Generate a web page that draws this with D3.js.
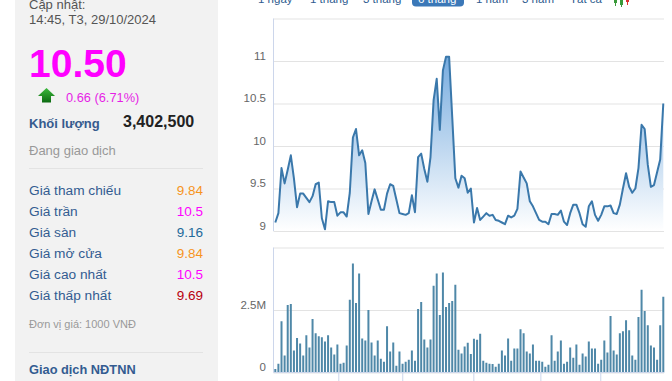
<!DOCTYPE html>
<html>
<head>
<meta charset="utf-8">
<script src="https://cdn.jsdelivr.net/npm/d3@7"></script>
<style>
  html, body { margin: 0; padding: 0; background: #fff; }
  svg { display: block; font-family: "Liberation Sans", Arial, sans-serif; }
</style>
</head>
<body>
<script>
// ---------- data ----------
const price = [
  9.10, 9.21, 9.74, 9.56, 9.72, 9.89, 9.62, 9.28, 9.44, 9.44,
  9.39, 9.34, 9.41, 9.55, 9.57, 9.15, 9.02, 9.35, 9.34, 9.34,
  9.18, 9.22, 9.22, 9.17, 9.45, 10.10, 10.20, 9.89, 9.95, 9.80,
  9.20, 9.35, 9.49, 9.37, 9.25, 9.25, 9.44, 9.55, 9.53, 9.37,
  9.21, 9.20, 9.19, 9.21, 9.42, 9.22, 9.87, 9.91, 9.73, 9.58,
  9.87, 10.54, 10.79, 10.19, 10.89, 11.05, 11.05, 10.34, 9.62, 9.51,
  9.65, 9.62, 9.45, 9.50, 9.10, 9.27, 9.13, 9.17, 9.21, 9.18,
  9.19, 9.13, 9.12, 9.10, 9.08, 9.18, 9.16, 9.18, 9.26, 9.70,
  9.63, 9.56, 9.35, 9.29, 9.21, 9.13, 9.11, 9.11, 9.08, 9.20,
  9.20, 9.19, 9.24, 9.11, 9.07, 9.21, 9.31, 9.31, 9.21, 9.08,
  9.05, 9.29, 9.35, 9.19, 9.12, 9.19, 9.29, 9.29, 9.30, 9.21,
  9.20, 9.31, 9.50, 9.68, 9.52, 9.45, 9.50, 9.74, 10.25, 10.20,
  9.78, 9.52, 9.54, 9.69, 9.84, 10.50
];
// volume in millions of shares
const volume = [
  0.14, 0.35, 2.05, 0.68, 2.70, 2.74, 0.88, 1.38, 1.16, 0.68,
  1.49, 1.00, 2.14, 1.57, 1.45, 1.41, 1.24, 1.49, 1.00, 0.72,
  1.12, 0.35, 0.39, 1.08, 2.91, 4.36, 2.78, 3.96, 1.36, 1.28,
  2.50, 1.20, 0.68, 1.28, 0.55, 0.43, 1.85, 0.84, 1.20, 0.27,
  0.84, 0.35, 0.43, 0.51, 0.88, 0.47, 2.54, 2.82, 1.32, 1.00,
  1.32, 3.47, 3.96, 2.30, 4.00, 2.62, 2.78, 2.86, 3.51, 0.91,
  0.76, 1.04, 1.19, 0.74, 1.35, 1.31, 1.55, 0.47, 0.39, 0.35,
  0.34, 0.23, 0.35, 0.88, 0.68, 1.36, 0.47, 0.96, 0.96, 1.73,
  1.57, 0.84, 0.76, 1.12, 0.47, 0.47, 0.43, 0.23, 0.31, 1.49,
  0.47, 0.84, 1.28, 0.35, 0.43, 1.00, 0.59, 1.12, 0.31, 0.76,
  0.64, 1.24, 0.96, 0.96, 0.35, 0.51, 1.28, 0.80, 2.26, 0.88,
  0.72, 1.57, 1.65, 2.09, 1.69, 0.68, 0.51, 2.22, 3.31, 2.46,
  1.89, 1.08, 1.00, 0.51, 1.89, 3.03
];
const priceTicks = [9, 9.5, 10, 10.5, 11, 11.5];
const priceTickLabels = ["9", "9.5", "10", "10.5", "11", ""];
const volumeTicks = [0, 2.5, 5];
const volumeTickLabels = ["0", "2.5M", ""];
// month boundaries (trading-day index): Jun, Jul, Aug, Sep, Oct
const monthTicks = [20.3, 40.9, 63.8, 85.4, 104.7];
const tabs = ["1 ngày", "1 tháng", "3 tháng", "6 tháng", "1 năm", "3 năm", "Tất cả"];
const selectedTab = "6 tháng";
const updateLabel = "Cập nhật:";
const updateTime = "14:45, T3, 29/10/2024";
const lastPrice = "10.50";
const change = "0.66 (6.71%)";
const volumeLabel = "Khối lượng";
const volumeValue = "3,402,500";
const status = "Đang giao dịch";
const infoLabels = ["Giá tham chiếu", "Giá trần", "Giá sàn", "Giá mở cửa", "Giá cao nhất", "Giá thấp nhất"];
const infoValues = ["9.84", "10.5", "9.16", "9.84", "10.5", "9.69"];
const infoColors = ["#f7941d", "#ff00ff", "#22699a", "#f7941d", "#ff00ff", "#b8000f"];
const unitNote = "Đơn vị giá: 1000 VNĐ";
const foreignLabel = "Giao dịch NĐTNN";

// ---------- drawing ----------
const W = 672, H = 381;
const svg = d3.select("body").append("svg").attr("width", W).attr("height", H);

// left info panel
svg.append("rect").attr("x", 15).attr("y", 0).attr("width", 203).attr("height", H).attr("fill", "#f2f2f2");

svg.append("text").attr("x", 29).attr("y", 9).attr("font-size", 13).attr("fill", "#555").text(updateLabel);
svg.append("text").attr("x", 29).attr("y", 24).attr("font-size", 13).attr("fill", "#555").text(updateTime);
svg.append("text").attr("x", 29).attr("y", 77).attr("font-size", 39).attr("font-weight", "bold").attr("fill", "#ff00ff").text(lastPrice);

// green up arrow
const grad0 = svg.append("defs");
const ag = grad0.append("linearGradient").attr("id", "arrowG").attr("x1", 0).attr("y1", 0).attr("x2", 0).attr("y2", 1);
ag.append("stop").attr("offset", "0%").attr("stop-color", "#3cb93c");
ag.append("stop").attr("offset", "100%").attr("stop-color", "#0d6b12");
svg.append("path").attr("d", "M46.5,88 L55,96 L51,96 L51,102.5 L42,102.5 L42,96 L38,96 Z").attr("fill", "url(#arrowG)");

svg.append("text").attr("x", 66).attr("y", 101.5).attr("font-size", 12.8).attr("fill", "#e61ee6").text(change);
svg.append("text").attr("x", 29).attr("y", 127.5).attr("font-size", 13).attr("font-weight", "bold").attr("fill", "#365b8e").text(volumeLabel);
svg.append("text").attr("x", 123).attr("y", 126.5).attr("font-size", 16).attr("font-weight", "bold").attr("fill", "#222").text(volumeValue);
svg.append("text").attr("x", 29).attr("y", 155).attr("font-size", 13).attr("fill", "#999").text(status);

svg.append("line").attr("x1", 29).attr("x2", 203).attr("y1", 168.5).attr("y2", 168.5).attr("stroke", "#e3e3e3");

const rows = svg.append("g");
infoLabels.forEach((lab, i) => {
  const yb = 194.5 + i * 21;
  rows.append("text").attr("x", 29).attr("y", yb).attr("font-size", 13.7).attr("fill", "#335c91").text(lab);
  rows.append("text").attr("x", 203).attr("y", yb).attr("font-size", 13.5).attr("text-anchor", "end").attr("fill", infoColors[i]).text(infoValues[i]);
});

svg.append("text").attr("x", 29).attr("y", 328).attr("font-size", 11).attr("fill", "#999").text(unitNote);
svg.append("line").attr("x1", 29).attr("x2", 203).attr("y1", 352.5).attr("y2", 352.5).attr("stroke", "#e3e3e3");
svg.append("text").attr("x", 29).attr("y", 374).attr("font-size", 12.8).attr("font-weight", "bold").attr("fill", "#335c91").text(foreignLabel);

// tabs (clipped at the top of the frame)
const tabX = [258, 310, 363, 418, 476, 522, 570];
svg.append("rect").attr("x", 412).attr("y", -12).attr("width", 52).attr("height", 18.5).attr("rx", 4).attr("fill", "#3b78b8");
tabs.forEach((t, i) => {
  svg.append("text").attr("x", tabX[i]).attr("y", 3).attr("font-size", 11.5)
    .attr("fill", t === selectedTab ? "#fff" : "#2f5c8f").text(t);
});
// small candlestick icon
const ic = svg.append("g");
ic.append("line").attr("x1", 615.5).attr("x2", 615.5).attr("y1", -4).attr("y2", 6).attr("stroke", "#3a9a3a");
ic.append("rect").attr("x", 614).attr("y", -2).attr("width", 3).attr("height", 5).attr("fill", "#3a9a3a");
ic.append("line").attr("x1", 621.5).attr("x2", 621.5).attr("y1", -3).attr("y2", 7).attr("stroke", "#3a9a3a");
ic.append("rect").attr("x", 620).attr("y", 0).attr("width", 3).attr("height", 5).attr("fill", "#3a9a3a");
ic.append("line").attr("x1", 627.5).attr("x2", 627.5).attr("y1", -4).attr("y2", 5).attr("stroke", "#d33");
ic.append("rect").attr("x", 626).attr("y", -2).attr("width", 3).attr("height", 4).attr("fill", "#d33");

// ---------- chart ----------
const plotL = 273.5, plotR = 664;
const x = d3.scaleLinear().domain([0, price.length - 1]).range([275.3, 663.3]);
const yP = d3.scaleLinear().domain([9, 11.5]).range([231, 18.5]);
const yV = d3.scaleLinear().domain([0, 5]).range([372.5, 247.5]);

const defs = svg.append("defs");
const g = defs.append("linearGradient").attr("id", "areaG").attr("gradientUnits", "userSpaceOnUse")
  .attr("x1", 0).attr("y1", yP(11.5)).attr("x2", 0).attr("y2", yP(9));
g.append("stop").attr("offset", "0%").attr("stop-color", "#5a9ad8");
g.append("stop").attr("offset", "100%").attr("stop-color", "#ffffff");

// price gridlines + labels
const pAxis = d3.axisLeft(yP).tickValues(priceTicks)
  .tickSize(-(plotR - plotL)).tickPadding(7.5)
  .tickFormat((d, i) => priceTickLabels[i]);
const pg = svg.append("g").attr("transform", `translate(${plotL},0)`).call(pAxis);
pg.select(".domain").remove();
pg.selectAll(".tick line").attr("stroke", "#e3e3e3");
pg.selectAll(".tick text").attr("font-size", 11.5).attr("fill", "#666").attr("dy", -2)
  .attr("font-family", "Liberation Sans, Arial, sans-serif");

// volume gridlines + labels
const vAxis = d3.axisLeft(yV).tickValues(volumeTicks)
  .tickSize(-(plotR - plotL)).tickPadding(7.5)
  .tickFormat((d, i) => volumeTickLabels[i]);
const vg = svg.append("g").attr("transform", `translate(${plotL},0)`).call(vAxis);
vg.select(".domain").remove();
vg.selectAll(".tick line").attr("stroke", "#e3e3e3");
vg.selectAll(".tick text").attr("font-size", 11.5).attr("fill", "#666").attr("dy", -2)
  .attr("font-family", "Liberation Sans, Arial, sans-serif");

// left axis lines
svg.append("line").attr("x1", plotL).attr("x2", plotL).attr("y1", yP(11.5)).attr("y2", yP(9)).attr("stroke", "#ccd6eb");
svg.append("line").attr("x1", plotL).attr("x2", plotL).attr("y1", yV(5)).attr("y2", yV(0)).attr("stroke", "#ccd6eb");

// price area + line
const area = d3.area().x((d, i) => x(i)).y0(yP(9)).y1(d => yP(d));
const line = d3.line().x((d, i) => x(i)).y(d => yP(d));
svg.append("path").datum(price).attr("d", area).attr("fill", "url(#areaG)");
svg.append("path").datum(price).attr("d", line).attr("fill", "none")
  .attr("stroke", "#3a78ab").attr("stroke-width", 2).attr("stroke-linejoin", "round");

// volume bars
svg.append("g").selectAll("rect").data(volume).join("rect")
  .attr("x", (d, i) => x(i) - 1).attr("width", 2)
  .attr("y", d => yV(d)).attr("height", d => yV(0) - yV(d))
  .attr("fill", "#4f88a8");

// bottom axis with month ticks
const xAxis = d3.axisBottom(x).tickValues(monthTicks).tickSize(10).tickSizeOuter(0).tickFormat("");
const xg = svg.append("g").attr("transform", `translate(0,${yV(0)})`).call(xAxis);
xg.select(".domain").remove();
xg.selectAll(".tick line").attr("stroke", "#ccd6eb");
svg.append("line").attr("x1", plotL).attr("x2", plotR).attr("y1", yV(0)).attr("y2", yV(0)).attr("stroke", "#ccd6eb");
</script>
</body>
</html>
